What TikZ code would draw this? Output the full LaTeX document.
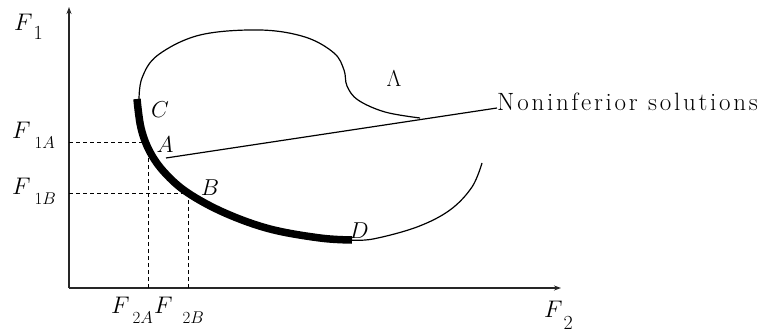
\RequirePackage{fix-cm}
\documentclass[tikz,border=0pt]{standalone}
\usepackage{fontspec}
\newfontfamily\spacedfont[LetterSpace=11]{Latin Modern Roman}
\DeclareMathSizes{24}{24}{18}{14}
\DeclareMathSizes{23}{23}{18}{14}
\newcommand\Flab[4]{$F$\kern#4\raisebox{-#3}{\fontsize{#2}{#2}\selectfont$#1$}}
\usetikzlibrary{arrows.meta}
\begin{document}
\begin{tikzpicture}[x=1pt,y=-1pt,
  lbl/.style={inner sep=0pt,font=\fontsize{23}{27}\selectfont},
  axlbl/.style={inner sep=0pt,anchor=base west,font=\fontsize{24}{28}\selectfont},
  axis/.style={line width=1.3pt,draw=black!85,-{Stealth[length=7pt,width=5pt]}},
  guide/.style={line width=0.8pt,dash pattern=on 4pt off 3pt},
  thin curve/.style={line width=1.2pt},
  front/.style={line width=7.5pt}]
\useasboundingbox (0,0) rectangle (763,334);
% axes
\coordinate (O) at (69,288);
\coordinate (Ytip) at (69,7);
\coordinate (Xtip) at (561,288);
\draw[axis] (O) -- (Ytip);
\draw[axis] (O) -- (Xtip);
\node[axlbl] (f1) at (14,31) {\Flab{1}{20pt}{9pt}{1pt}};
\node[axlbl] (f2) at (544,317) {\Flab{2}{20pt}{12pt}{1pt}};
% key points
\coordinate (C) at (138,100);
\coordinate (A) at (150,153);
\coordinate (B) at (188,193);
\coordinate (D) at (350,240);
\coordinate (yA) at (69,142);
\coordinate (yB) at (69,193);
\coordinate (xA) at (148,288);
\coordinate (xB) at (188,288);
\coordinate (pA) at (146,142);
\coordinate (qA) at (148,155);
% dashed guides
\draw[guide] (yA) -- (pA);
\draw[guide] (yB) -- (B);
\draw[guide] (xA) -- (qA);
\draw[guide] (xB) -- (B);
% tick labels
\node[axlbl] (f1a) at (12,139) {\Flab{1A}{17pt}{10pt}{4pt}};
\node[axlbl] (f1b) at (12,194) {\Flab{1B}{17pt}{10pt}{4pt}};
\node[axlbl] (f2a) at (111,313) {\Flab{2A}{17pt}{10pt}{3pt}};
\node[axlbl] (f2b) at (154,313) {\Flab{2B}{17pt}{10pt}{10pt}};
% thin outer boundary (top)
\draw[thin curve] plot[smooth,tension=0.6] coordinates {(139,101) (142,78) (158,55) (200,35) (260,30) (305,37) (334,53) (344,70) (347,86) (358,100) (385,112) (420,118)};
% thin lower right boundary
\draw[thin curve] plot[smooth,tension=0.6] coordinates {(350,240) (373,239) (417,227) (450,210) (472,187) (482,163)};
% noninferior front
\draw[front] plot[smooth,tension=0.6] coordinates {(137,99) (141,128) (150,152) (165,173) (188,193) (225,213) (270,229) (320,238) (352,240)};
% labels on the curve
\node[lbl] (lC) at (160,110) {$C$};
\node[lbl] (lA) at (165,145) {$A$};
\node[lbl] (lB) at (210,188) {$B$};
\node[lbl] (lD) at (359,231) {$D$};
\node[lbl] (lL) at (394,79) {$\Lambda$};
% annotation line
\coordinate (Astart) at (166,158);
\node[inner sep=0pt,anchor=west,font=\fontsize{25}{29}\spacedfont] (ns) at (497,102) {Noninferior solutions};
\draw[line width=1.2pt] (Astart) -- (ns.west|-0,108);
\end{tikzpicture}
\end{document}
